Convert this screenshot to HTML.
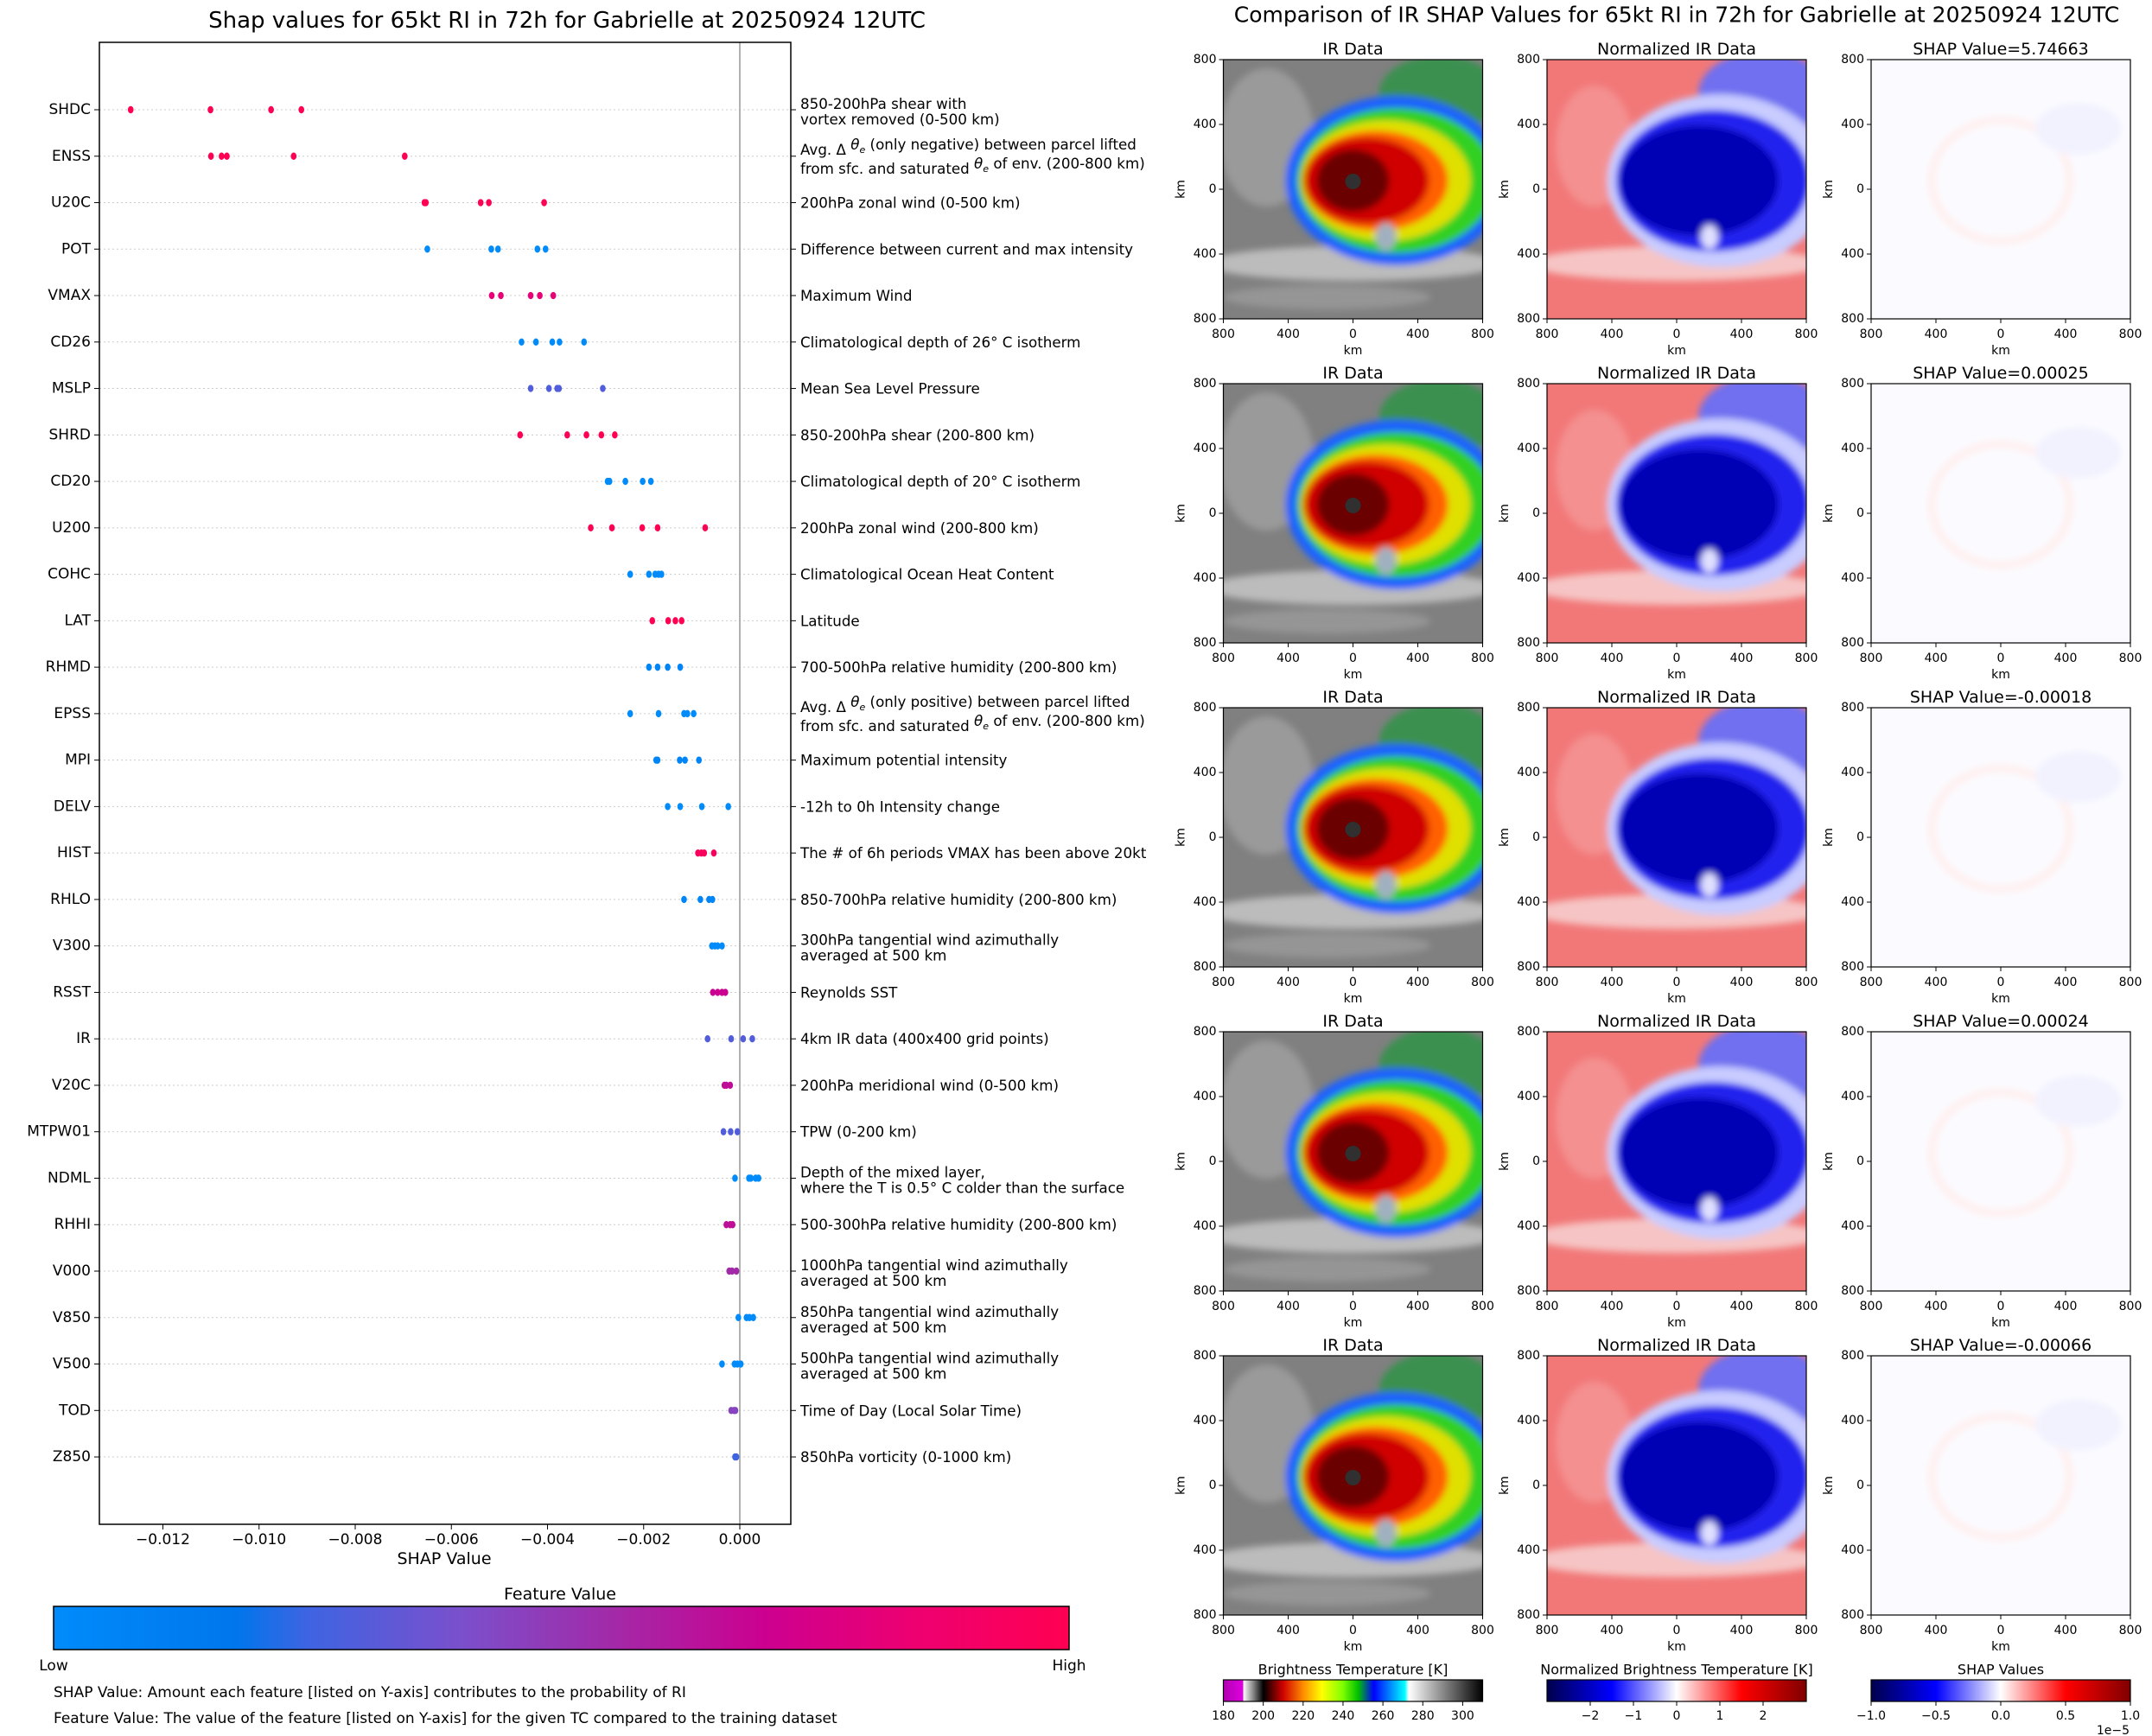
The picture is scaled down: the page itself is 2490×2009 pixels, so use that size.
<!DOCTYPE html>
<html><head><meta charset="utf-8"><style>
html,body{margin:0;padding:0;background:#fff;}
svg{display:block;font-family:"DejaVu Sans","Liberation Sans",sans-serif;}
</style></head><body>
<svg id="fig" width="2490" height="2009" viewBox="0 0 2490 2009" xmlns="http://www.w3.org/2000/svg">
<defs>
 <linearGradient id="shapcm" x1="0" x2="1" y1="0" y2="0">
  <stop offset="0" stop-color="#008bfb"/><stop offset="0.18" stop-color="#0076ec"/>
  <stop offset="0.25" stop-color="#3e64e2"/><stop offset="0.4" stop-color="#7a50cc"/>
  <stop offset="0.55" stop-color="#a22aa8"/><stop offset="0.7" stop-color="#cc0090"/>
  <stop offset="0.85" stop-color="#ee0070"/><stop offset="1" stop-color="#ff0052"/>
 </linearGradient>
 <linearGradient id="btcm" x1="0" x2="1">
  <stop offset="0" stop-color="#b000b0"/><stop offset="0.076" stop-color="#e000e0"/>
  <stop offset="0.077" stop-color="#ffffff"/><stop offset="0.115" stop-color="#888"/>
  <stop offset="0.154" stop-color="#000"/><stop offset="0.23" stop-color="#d00000"/>
  <stop offset="0.31" stop-color="#ff9000"/><stop offset="0.38" stop-color="#ffff00"/>
  <stop offset="0.46" stop-color="#80ff00"/><stop offset="0.52" stop-color="#00c000"/>
  <stop offset="0.58" stop-color="#0000ff"/><stop offset="0.7" stop-color="#00ffff"/>
  <stop offset="0.715" stop-color="#ffffff"/><stop offset="1" stop-color="#000000"/>
 </linearGradient>
 <linearGradient id="seis" x1="0" x2="1">
  <stop offset="0" stop-color="#00004c"/><stop offset="0.25" stop-color="#0000ff"/>
  <stop offset="0.5" stop-color="#ffffff"/><stop offset="0.75" stop-color="#ff0000"/>
  <stop offset="1" stop-color="#800000"/>
 </linearGradient>
 <filter id="soft"><feGaussianBlur stdDeviation="4"/></filter>
 <clipPath id="pclip"><rect x="0" y="0" width="300" height="300"/></clipPath>
 <g id="irimg" clip-path="url(#pclip)">
  <rect width="300" height="300" fill="#808080"/>
  <g filter="url(#soft)">
   <ellipse cx="50" cy="90" rx="55" ry="80" fill="#9a9a9a"/>
   <ellipse cx="150" cy="236" rx="170" ry="20" fill="#bcbcbc"/>
   <ellipse cx="120" cy="275" rx="120" ry="14" fill="#959595"/>
   <ellipse cx="250" cy="40" rx="70" ry="45" fill="#3a9050"/>
   <ellipse cx="200" cy="140" rx="128" ry="98" fill="#1a60ff"/>
   <ellipse cx="200" cy="140" rx="115" ry="84" fill="#30d020"/>
   <ellipse cx="188" cy="140" rx="98" ry="70" fill="#e0e000"/>
   <ellipse cx="176" cy="140" rx="84" ry="58" fill="#ff6000"/>
   <ellipse cx="166" cy="140" rx="72" ry="50" fill="#d00000"/>
   <ellipse cx="150" cy="140" rx="42" ry="36" fill="#6a0000"/>
   <ellipse cx="188" cy="205" rx="12" ry="16" fill="#a0b0c0"/>
  </g>
  <circle cx="150" cy="141" r="9" fill="#303030"/>
 </g>
 <g id="nirimg" clip-path="url(#pclip)">
  <rect width="300" height="300" fill="#f27878"/>
  <g filter="url(#soft)">
   <ellipse cx="150" cy="236" rx="170" ry="20" fill="#f6c4c4"/>
   <ellipse cx="55" cy="100" rx="45" ry="70" fill="#f49090"/>
   <ellipse cx="250" cy="40" rx="75" ry="50" fill="#7070f0"/>
   <ellipse cx="200" cy="140" rx="130" ry="100" fill="#c8ccff"/>
   <ellipse cx="192" cy="140" rx="112" ry="82" fill="#2020ee"/>
   <ellipse cx="176" cy="140" rx="92" ry="64" fill="#0000b4"/>
   <ellipse cx="188" cy="205" rx="10" ry="14" fill="#e0e0ff"/>
  </g>
 </g>
 <g id="shpimg" clip-path="url(#pclip)">
  <rect width="300" height="300" fill="#fbfbff"/>
  <g filter="url(#soft)">
   <ellipse cx="150" cy="140" rx="80" ry="70" fill="none" stroke="#fff0f0" stroke-width="10"/>
   <ellipse cx="240" cy="80" rx="50" ry="30" fill="#f2f2ff"/>
  </g>
 </g>
</defs>
<g id="left"></g>
<g id="right"></g>
</svg>
<script>
const features = ["SHDC","ENSS","U20C","POT","VMAX","CD26","MSLP","SHRD","CD20","U200","COHC","LAT","RHMD","EPSS","MPI","DELV","HIST","RHLO","V300","RSST","IR","V20C","MTPW01","NDML","RHHI","V000","V850","V500","TOD","Z850"];
const descriptions = [
 ["850-200hPa shear with","vortex removed (0-500 km)"],
 ["ENSS"],
 ["200hPa zonal wind (0-500 km)"],
 ["Difference between current and max intensity"],
 ["Maximum Wind"],
 ["Climatological depth of 26° C isotherm"],
 ["Mean Sea Level Pressure"],
 ["850-200hPa shear (200-800 km)"],
 ["Climatological depth of 20° C isotherm"],
 ["200hPa zonal wind (200-800 km)"],
 ["Climatological Ocean Heat Content"],
 ["Latitude"],
 ["700-500hPa relative humidity (200-800 km)"],
 ["EPSS"],
 ["Maximum potential intensity"],
 ["-12h to 0h Intensity change"],
 ["The # of 6h periods VMAX has been above 20kt"],
 ["850-700hPa relative humidity (200-800 km)"],
 ["300hPa tangential wind azimuthally","averaged at 500 km"],
 ["Reynolds SST"],
 ["4km IR data (400x400 grid points)"],
 ["200hPa meridional wind (0-500 km)"],
 ["TPW (0-200 km)"],
 ["Depth of the mixed layer,","where the T is 0.5° C colder than the surface"],
 ["500-300hPa relative humidity (200-800 km)"],
 ["1000hPa tangential wind azimuthally","averaged at 500 km"],
 ["850hPa tangential wind azimuthally","averaged at 500 km"],
 ["500hPa tangential wind azimuthally","averaged at 500 km"],
 ["Time of Day (Local Solar Time)"],
 ["850hPa vorticity (0-1000 km)"]
];
const shapValues = [
 [-0.01267,-0.01101,-0.00975,-0.00912],
 [-0.01100,-0.01078,-0.01067,-0.00928,-0.00697],
 [-0.00656,-0.00653,-0.00539,-0.00522,-0.00407],
 [-0.00650,-0.00517,-0.00503,-0.00421,-0.00404],
 [-0.00516,-0.00497,-0.00435,-0.00416,-0.00388],
 [-0.00454,-0.00424,-0.00390,-0.00375,-0.00324],
 [-0.00435,-0.00397,-0.00380,-0.00376,-0.00285],
 [-0.00457,-0.00359,-0.00319,-0.00288,-0.00260],
 [-0.00275,-0.00271,-0.00238,-0.00202,-0.00185],
 [-0.00310,-0.00266,-0.00203,-0.00171,-0.00072],
 [-0.00228,-0.00189,-0.00176,-0.00169,-0.00163],
 [-0.00182,-0.00149,-0.00134,-0.00121],
 [-0.00189,-0.00171,-0.00150,-0.00124],
 [-0.00228,-0.00169,-0.00116,-0.00109,-0.00096],
 [-0.00174,-0.00171,-0.00125,-0.00114,-0.00085],
 [-0.00150,-0.00124,-0.00079,-0.00024],
 [-0.00087,-0.00080,-0.00074,-0.00054],
 [-0.00116,-0.00082,-0.00064,-0.00057],
 [-0.00058,-0.00052,-0.00046,-0.00037],
 [-0.00056,-0.00046,-0.00037,-0.00030],
 [-0.00067,-0.00018,0.00007,0.00026],
 [-0.00032,-0.00028,-0.00020],
 [-0.00034,-0.00019,-0.00005],
 [-0.00010,0.00019,0.00023,0.00033,0.00039],
 [-0.00028,-0.00020,-0.00015],
 [-0.00022,-0.00016,-0.00007],
 [-0.00003,0.00014,0.00020,0.00028],
 [-0.00037,-0.00011,-0.00005,0.00002],
 [-0.00018,-0.00012,-0.00009],
 [-0.00010,-0.00007]
];
const featureValues = [1,1,1,0,0.82,0,0.3,1,0,1,0,1,0.05,0,0.05,0,0.95,0.05,0,0.7,0.3,0.65,0.3,0,0.65,0.55,0,0,0.45,0.25];
const xTicks = [-0.012,-0.010,-0.008,-0.006,-0.004,-0.002,0.000];
const panelShap = ["5.74663","0.00025","-0.00018","0.00024","-0.00066"];
const kmTicks = ["800","400","0","400","800"];
const btTicks = [180,200,220,240,260,280,300];
const nbtTicks = [-2,-1,0,1,2];
const shTicks = ["−1.0","−0.5","0.0","0.5","1.0"];

const NS="http://www.w3.org/2000/svg";
function mk(parent,tag,attrs,text){const e=document.createElementNS(NS,tag);for(const k in attrs)e.setAttribute(k,attrs[k]);if(text!==undefined)e.textContent=text;parent.appendChild(e);return e;}
const L=document.getElementById('left'), R=document.getElementById('right');
const AX0=115, AX1=915, AY0=49, AY1=1764, X0=856, PXU=55625, ROW0=127, ROWS=53.76;
const xs=v=>X0+v*PXU, ys=i=>ROW0+i*ROWS;
const stops=[[0,[0,139,251]],[0.18,[0,118,236]],[0.25,[62,100,226]],[0.4,[122,80,204]],[0.55,[162,42,168]],[0.7,[204,0,144]],[0.85,[238,0,112]],[1,[255,0,82]]];
function cmap(t){for(let i=1;i<stops.length;i++){if(t<=stops[i][0]){const a=stops[i-1],b=stops[i];const f=(t-a[0])/(b[0]-a[0]);return 'rgb('+a[1].map((c,j)=>Math.round(c+(b[1][j]-c)*f)).join(',')+')';}}return 'rgb(255,0,82)';}
const FS=16.7;
let t=mk(L,'text',{x:656,y:24,'font-size':26,'text-anchor':'middle','dominant-baseline':'central'},'Shap values for 65kt RI in 72h for Gabrielle at 20250924 12UTC');

features.forEach((f,i)=>{
 const y=ys(i);
 const g=mk(L,'line',{x1:AX0,x2:AX1,y1:y,y2:y,stroke:'#ccc','stroke-width':1,'stroke-dasharray':'2,3'});
 
 mk(L,'line',{x1:AX0-6,x2:AX0,y1:y,y2:y,stroke:'#000'});
 mk(L,'line',{x1:AX1,x2:AX1+6,y1:y,y2:y,stroke:'#000'});
 const lb=mk(L,'text',{x:AX0-10,y:y,'font-size':17,'text-anchor':'end','dominant-baseline':'central'},f);
 
 let d=descriptions[i];
 let rt;
 if(f==='ENSS'||f==='EPSS'){
  const w=f==='ENSS'?'negative':'positive';
  rt=mk(L,'text',{x:926,y:y,'font-size':FS});
  mk(rt,'tspan',{x:926,y:y-8,'dominant-baseline':'central'},'Avg. Δ ');
  mk(rt,'tspan',{'font-style':'italic'},'θ');
  mk(rt,'tspan',{'font-size':11,'font-style':'italic',dy:4},'e');
  mk(rt,'tspan',{dy:-4},' (only '+w+') between parcel lifted');
  mk(rt,'tspan',{x:926,y:y+14,'dominant-baseline':'central'},'from sfc. and saturated ');
  mk(rt,'tspan',{'font-style':'italic'},'θ');
  mk(rt,'tspan',{'font-size':11,'font-style':'italic',dy:4},'e');
  mk(rt,'tspan',{dy:-4},' of env. (200-800 km)');
 } else if(d.length===2){
  rt=mk(L,'text',{x:926,y:y,'font-size':FS});
  mk(rt,'tspan',{x:926,y:y-7,'dominant-baseline':'central'},d[0]);
  mk(rt,'tspan',{x:926,y:y+11,'dominant-baseline':'central'},d[1]);
 } else {
  rt=mk(L,'text',{x:926,y:y,'font-size':FS,'dominant-baseline':'central'},d[0]);
 }
 
});
let zl=mk(L,'line',{x1:X0,x2:X0,y1:AY0,y2:AY1,stroke:'#999','stroke-width':1.5});

shapValues.forEach((arr,i)=>{
 arr.forEach(v=>{
  const c=mk(L,'ellipse',{cx:xs(v),cy:ys(i),rx:3.3,ry:4.2,fill:cmap(featureValues[i])});
  
  
 });
});
let fr=mk(L,'rect',{x:AX0,y:AY0,width:AX1-AX0,height:AY1-AY0,fill:'none',stroke:'#000','stroke-width':1.5});

xTicks.forEach(v=>{
 mk(L,'line',{x1:xs(v),x2:xs(v),y1:AY1,y2:AY1+6,stroke:'#000'});
 const tl=mk(L,'text',{x:xs(v),y:1782,'font-size':17,'text-anchor':'middle','dominant-baseline':'central'},(v<0?'−':'')+Math.abs(v).toFixed(3));
 
});
t=mk(L,'text',{x:514,y:1804,'font-size':19,'text-anchor':'middle','dominant-baseline':'central'},'SHAP Value');

t=mk(L,'text',{x:648,y:1845,'font-size':19,'text-anchor':'middle','dominant-baseline':'central'},'Feature Value');

t=mk(L,'rect',{x:62,y:1859,width:1175,height:50,fill:'url(#shapcm)',stroke:'#000','stroke-width':1.5});

t=mk(L,'text',{x:62,y:1928,'font-size':17,'text-anchor':'middle','dominant-baseline':'central'},'Low');

t=mk(L,'text',{x:1237,y:1928,'font-size':17,'text-anchor':'middle','dominant-baseline':'central'},'High');

t=mk(L,'text',{x:62,y:1959,'font-size':17,'dominant-baseline':'central'},'SHAP Value: Amount each feature [listed on Y-axis] contributes to the probability of RI');

t=mk(L,'text',{x:62,y:1989,'font-size':17,'dominant-baseline':'central'},'Feature Value: The value of the feature [listed on Y-axis] for the given TC compared to the training dataset');


t=mk(R,'text',{x:1940,y:17,'font-size':25,'text-anchor':'middle','dominant-baseline':'central'},'Comparison of IR SHAP Values for 65kt RI in 72h for Gabrielle at 20250924 12UTC');

const colX=[1415.5,1790,2165], imgs=['#irimg','#nirimg','#shpimg'];
panelShap.forEach((sv,r)=>{
 const top=69+r*375;
 const titles=['IR Data','Normalized IR Data','SHAP Value='+sv];
 colX.forEach((cx,c)=>{
  const u=mk(R,'use',{href:imgs[c],x:cx,y:top});
  
  mk(R,'rect',{x:cx,y:top,width:300,height:300,fill:'none',stroke:'#000','stroke-width':1.2});
  const st=mk(R,'text',{x:cx+150,y:top-12,'font-size':19,'text-anchor':'middle','dominant-baseline':'central'},titles[c]);
  
  kmTicks.forEach((k,j)=>{
   const p=j*75;
   mk(R,'line',{x1:cx+p,x2:cx+p,y1:top+300,y2:top+305,stroke:'#000'});
   mk(R,'text',{x:cx+p,y:top+318,'font-size':14,'text-anchor':'middle','dominant-baseline':'central'},k);
   mk(R,'line',{x1:cx-5,x2:cx,y1:top+p,y2:top+p,stroke:'#000'});
   mk(R,'text',{x:cx-8,y:top+p,'font-size':14,'text-anchor':'end','dominant-baseline':'central'},k);
  });
  mk(R,'text',{x:cx+150,y:top+337,'font-size':14,'text-anchor':'middle','dominant-baseline':'central'},'km');
  mk(R,'text',{x:cx-49,y:top+150,'font-size':14,'text-anchor':'middle','dominant-baseline':'central',transform:'rotate(-90 '+(cx-49)+' '+(top+150)+')'},'km');
 });
});
const cbT=['Brightness Temperature [K]','Normalized Brightness Temperature [K]','SHAP Values'];
const cbF=['url(#btcm)','url(#seis)','url(#seis)'];
colX.forEach((cx,c)=>{
 const ttl=mk(R,'text',{x:cx+150,y:1932,'font-size':16,'text-anchor':'middle','dominant-baseline':'central'},cbT[c]);
 
 const cb=mk(R,'rect',{x:cx,y:1944,width:300,height:25,fill:cbF[c],stroke:'#000','stroke-width':1.2});
 
});
btTicks.forEach(v=>{const x=colX[0]+(v-180)/130*300;mk(R,'line',{x1:x,x2:x,y1:1969,y2:1974,stroke:'#000'});mk(R,'text',{x:x,y:1986,'font-size':14,'text-anchor':'middle','dominant-baseline':'central'},String(v));});
nbtTicks.forEach(v=>{const x=colX[1]+150+v*50;mk(R,'line',{x1:x,x2:x,y1:1969,y2:1974,stroke:'#000'});mk(R,'text',{x:x,y:1986,'font-size':14,'text-anchor':'middle','dominant-baseline':'central'},(v<0?'−':'')+Math.abs(v));});
shTicks.forEach((s,j)=>{const x=colX[2]+j*75;mk(R,'line',{x1:x,x2:x,y1:1969,y2:1974,stroke:'#000'});mk(R,'text',{x:x,y:1986,'font-size':14,'text-anchor':'middle','dominant-baseline':'central'},s);});
mk(R,'text',{x:2464,y:2003,'font-size':14,'text-anchor':'end','dominant-baseline':'central'},'1e−5');
</script>
</body></html>
